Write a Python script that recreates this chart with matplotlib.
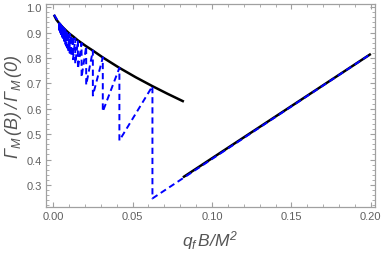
import matplotlib.pyplot as plt
from matplotlib.ticker import MultipleLocator

plt.rcParams['mathtext.fontset'] = 'custom'
plt.rcParams['mathtext.rm'] = 'Liberation Sans:italic'
plt.rcParams['mathtext.it'] = 'Liberation Sans:italic'
plt.rcParams['font.family'] = 'Liberation Sans'

# continuum curve (black)
black_x = [0.0005, 0.002, 0.004, 0.006, 0.0078, 0.0104, 0.0125, 0.0156, 0.0208,
           0.025, 0.03125, 0.0417, 0.052, 0.0625, 0.072, 0.0823]
black_y = [0.970, 0.951, 0.935, 0.921, 0.910, 0.895, 0.885, 0.869, 0.846,
           0.829, 0.802, 0.761, 0.724, 0.689, 0.659, 0.628]

# lowest level line (black, right part)
lll_x = [0.0817, 0.2]
lll_y = [0.330, 0.816]

# sawtooth (blue dashed): jump positions, value just before and just after each jump
jump_x = [0.0039, 0.0040, 0.0042, 0.0043, 0.0045, 0.0046, 0.0048, 0.0050,
          0.0052, 0.0054, 0.0057, 0.0060, 0.0063, 0.0066, 0.0069, 0.0074,
          0.0078, 0.0083, 0.0089, 0.0096, 0.0104, 0.0114, 0.0125, 0.0139,
          0.0156, 0.0179, 0.0208, 0.025, 0.03125, 0.0417, 0.0625]
jump_top = [0.938, 0.937, 0.935, 0.934, 0.933, 0.932, 0.930, 0.929,
            0.928, 0.926, 0.924, 0.922, 0.920, 0.918, 0.916, 0.913,
            0.910, 0.907, 0.904, 0.900, 0.895, 0.890, 0.885, 0.877,
            0.869, 0.858, 0.846, 0.829, 0.802, 0.761, 0.689]
jump_bot = [0.911, 0.909, 0.907, 0.905, 0.902, 0.900, 0.897, 0.894,
            0.891, 0.888, 0.884, 0.880, 0.876, 0.872, 0.867, 0.861,
            0.854, 0.847, 0.840, 0.830, 0.820, 0.808, 0.795, 0.777,
            0.757, 0.724, 0.694, 0.652, 0.589, 0.475, 0.247]
saw_start = (0.0005, 0.970)
saw_end = (0.2, 0.816)

bx = [saw_start[0]]
by = [saw_start[1]]
for xj, t, b in zip(jump_x, jump_top, jump_bot):
    bx += [xj, xj]
    by += [t, b]
bx.append(saw_end[0])
by.append(saw_end[1])

fig = plt.figure(figsize=(3.82, 2.55), dpi=100)
ax = fig.add_axes([0.120, 0.184, 0.8625, 0.796])

ax.plot(black_x, black_y, color='black', lw=1.8, solid_capstyle='butt')
ax.plot(lll_x, lll_y, color='black', lw=1.8, solid_capstyle='butt')
ax.plot(bx, by, color='#0000ff', lw=1.4, dashes=(3.2, 2.0))

ax.set_xlim(-0.0046, 0.2028)
ax.set_ylim(0.213, 1.012)

ax.xaxis.set_major_locator(MultipleLocator(0.05))
ax.xaxis.set_minor_locator(MultipleLocator(0.01))
ax.yaxis.set_major_locator(MultipleLocator(0.1))
ax.yaxis.set_minor_locator(MultipleLocator(0.02))
ax.xaxis.set_major_formatter(plt.FuncFormatter(lambda v, p: f"{v:.2f}"))
ax.yaxis.set_major_formatter(plt.FuncFormatter(lambda v, p: f"{v:.1f}"))

frame_col = '#a0a0a0'
for s in ax.spines.values():
    s.set_color(frame_col)
    s.set_linewidth(0.9)
ax.tick_params(which='both', direction='in', top=True, right=True,
               color=frame_col, labelcolor='#606060', labelsize=8, pad=3)
ax.tick_params(which='major', length=3.5, width=0.8)
ax.tick_params(which='minor', length=2.0, width=0.6)

ax.set_xlabel(r'$q_f\,B/M^2$', fontsize=12.5, color='#555555', labelpad=5)
ax.set_ylabel(r'$\Gamma_M\,(B)\,/\,\Gamma_M\,(0)$', fontsize=13, color='#555555', labelpad=2)

fig.savefig('out.png', dpi=100)
